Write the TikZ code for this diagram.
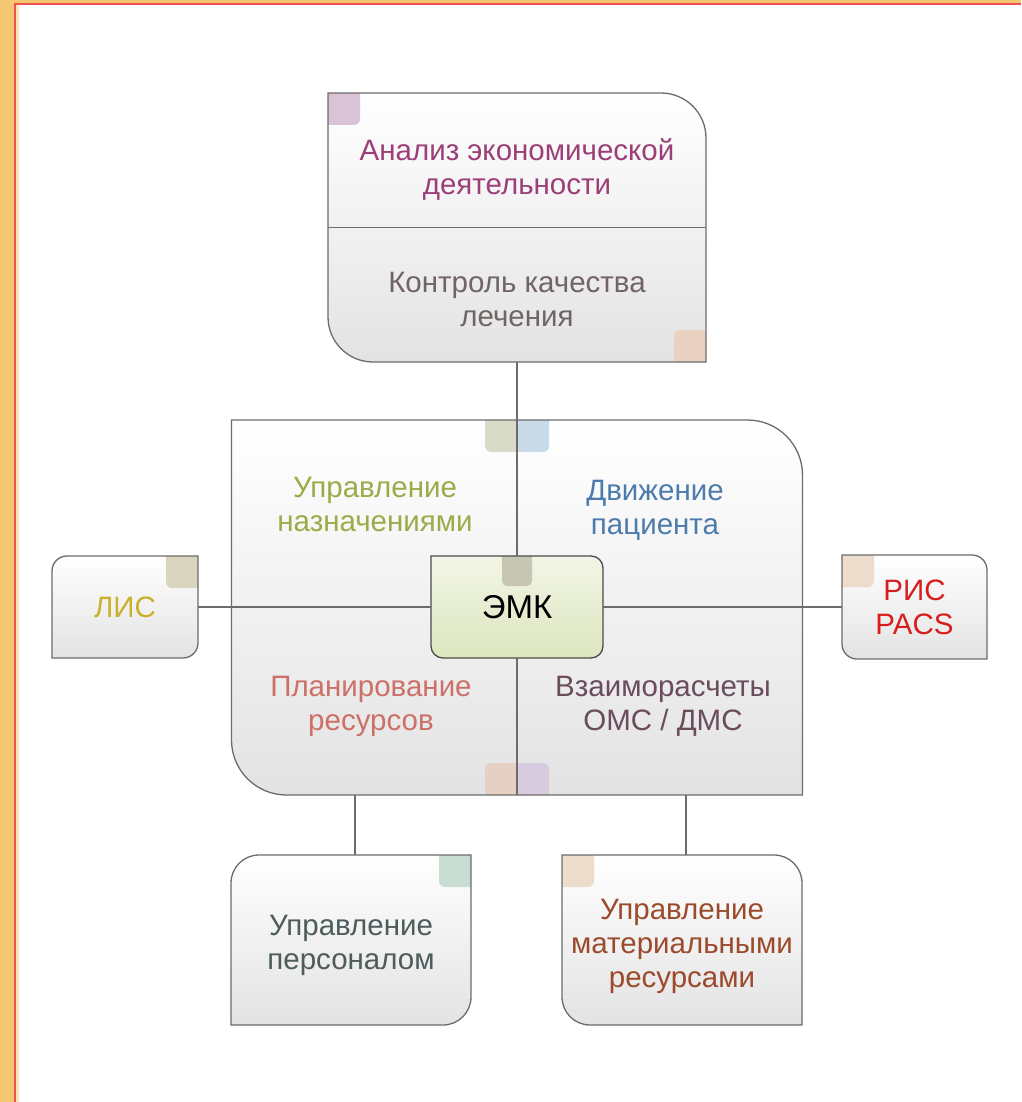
\documentclass[tikz,border=0pt]{standalone}
\usepackage{fontspec}
\setmainfont{Liberation Sans}
\usetikzlibrary{backgrounds}

\definecolor{slideOrange}{HTML}{F5C772}
\definecolor{slideRed}{HTML}{F24F4F}
\definecolor{lineGray}{HTML}{6C6C6C}
\definecolor{panelGray}{HTML}{E3E3E3}
\definecolor{emkLight}{HTML}{F2F5E6}
\definecolor{emkDark}{HTML}{DCE6BE}
% tab colours
\definecolor{tabAnaliz}{HTML}{D9C3D6}
\definecolor{tabKach}{HTML}{E9D2C2}
\definecolor{tabZoneL}{HTML}{D8DBC7}
\definecolor{tabZoneR}{HTML}{C9DBE8}
\definecolor{tabZoneBL}{HTML}{E6D0C4}
\definecolor{tabZoneBR}{HTML}{D7CBE0}
\definecolor{tabEmk}{HTML}{C6C6B2}
\definecolor{tabLis}{HTML}{D9D5BF}
\definecolor{tabRis}{HTML}{ECDCCC}
\definecolor{tabKadry}{HTML}{C9DDD3}
\definecolor{tabSnab}{HTML}{ECDCCA}
% text colours
\definecolor{txtAnaliz}{HTML}{9C3F78}
\definecolor{txtKach}{HTML}{706464}
\definecolor{txtNazn}{HTML}{9BAB4A}
\definecolor{txtDvig}{HTML}{4D7BAB}
\definecolor{txtPlan}{HTML}{CC7068}
\definecolor{txtVzaim}{HTML}{6A4C5C}
\definecolor{txtLis}{HTML}{C9B12E}
\definecolor{txtRis}{HTML}{D71E1E}
\definecolor{txtKadry}{HTML}{4E5C5C}
\definecolor{txtSnab}{HTML}{9C4A2C}

\newcommand\lblfont{\fontsize{29.5pt}{34pt}\selectfont}
\newcommand\emkfont{\fontsize{33pt}{36pt}\selectfont}

% outline with rounded top right and bottom left corners
\newcommand\leafpath[2]{(#1.north west) -- ([xshift=-#2]#1.north east) arc[start angle=90,end angle=0,radius=#2]
  -- (#1.south east) -- ([xshift=#2]#1.south west) arc[start angle=270,end angle=180,radius=#2] -- cycle}
% outline with rounded top left and bottom right corners
\newcommand\twinpath[2]{([yshift=-#2]#1.north west) arc[start angle=180,end angle=90,radius=#2] -- (#1.north east)
  -- ([yshift=#2]#1.south east) arc[start angle=0,end angle=-90,radius=#2] -- (#1.south west) -- cycle}

% little coloured tabs in the corners
\newcommand\tabNW[1]{\fill[#1,rounded corners=6pt] ([shift={(-10pt,10pt)}]path picture bounding box.north west) rectangle ++(42pt,-42pt);}
\newcommand\tabNE[1]{\fill[#1,rounded corners=6pt] ([shift={(10pt,10pt)}]path picture bounding box.north east) rectangle ++(-42pt,-42pt);}
\newcommand\tabSE[1]{\fill[#1,rounded corners=6pt] ([shift={(10pt,-10pt)}]path picture bounding box.south east) rectangle ++(-42pt,42pt);}
\newcommand\tabN[2]{\fill[#1,rounded corners=6pt] ([shift={(-32pt,10pt)}]path picture bounding box.north) rectangle ++(42pt,-42pt);
  \fill[#2,rounded corners=6pt] ([shift={(0pt,10pt)}]path picture bounding box.north) rectangle ++(32pt,-42pt);}
\newcommand\tabS[2]{\fill[#1,rounded corners=6pt] ([shift={(-32pt,-10pt)}]path picture bounding box.south) rectangle ++(42pt,42pt);
  \fill[#2,rounded corners=6pt] ([shift={(0pt,-10pt)}]path picture bounding box.south) rectangle ++(32pt,42pt);}

\begin{document}
\begin{tikzpicture}[x=1pt,y=1pt,
  box/.style={inner sep=0pt,outer sep=0pt,align=center,font=\lblfont},
  panel/.style={draw=lineGray,line width=1.3pt,top color=white,bottom color=panelGray},
  link/.style={draw=lineGray,line width=1.3pt},
  lbl/.style={align=center,font=\lblfont}]

\useasboundingbox (0,0) rectangle (1021,-1102);

% slide frame
\fill[slideOrange] (0,0) rectangle (14,-1102);
\fill[slideOrange] (0,0) rectangle (1021,-3);
\fill[slideOrange!50] (16,-5) rectangle (19,-1102);
\draw[slideRed,line width=2pt] (15,-1102) -- (15,-4) -- (1021,-4);

% boxes
\node[box,minimum width=378pt,minimum height=269pt] (analiz) at (517,-227.5) {};
\node[box,minimum width=571pt,minimum height=375pt] (zone) at (517,-607.5) {};
\node[box,minimum width=172pt,minimum height=102pt,font=\emkfont] (emk) at (517,-607) {ЭМК};
\node[box,minimum width=146pt,minimum height=102pt,text=txtLis] (lis) at (125,-607) {ЛИС};
\node[box,minimum width=145pt,minimum height=104pt,text=txtRis] (ris) at (914.5,-607) {РИС\\PACS};
\node[box,minimum width=240pt,minimum height=170pt] (kadry) at (351,-940) {};
\node[box,minimum width=240pt,minimum height=170pt] (snab) at (682,-940) {};

% labels
\node[lbl,text=txtAnaliz] (ekon) at (517,-169) {Анализ экономической\\деятельности};
\node[lbl,text=txtKach] (kachestvo) at (517,-299) {Контроль качества\\лечения};
\node[lbl,text=txtNazn] (nazn) at (375,-504) {Управление\\назначениями};
\node[lbl,text=txtDvig] (dvig) at (655,-510) {Движение\\пациента};
\node[lbl,text=txtPlan] (plan) at (371,-706) {Планирование\\ресурсов};
\node[lbl,text=txtVzaim] (vzaim) at (663,-706) {Взаиморасчеты\\ОМС / ДМС};
\node[lbl,text=txtKadry] (kadryTxt) at ([yshift=-5pt]kadry.center) {Управление\\персоналом};
\node[lbl,text=txtSnab] (snabTxt) at ([yshift=-6pt]snab.center) {Управление\\материальными\\ресурсами};

\begin{scope}[on background layer]
\path[panel,path picture={\tabN{tabZoneL}{tabZoneR}\tabS{tabZoneBL}{tabZoneBR}}] \leafpath{zone}{55pt};
\path[panel,path picture={\tabNW{tabAnaliz}\tabSE{tabKach}}] \leafpath{analiz}{45pt};
\path[panel,path picture={\tabNE{tabLis}}] \twinpath{lis}{15pt};
\path[panel,path picture={\tabNW{tabRis}}] \leafpath{ris}{15pt};
\path[panel,path picture={\tabNE{tabKadry}}] \twinpath{kadry}{28pt};
\path[panel,path picture={\tabNW{tabSnab}}] \leafpath{snab}{28pt};
\path[panel,draw=black!70,top color=emkLight,bottom color=emkDark,
  path picture={\fill[tabEmk,rounded corners=5pt] ([shift={(-15pt,10pt)}]path picture bounding box.north) rectangle ++(30pt,-40pt);}]
  (emk.north west) -- ([xshift=-12pt]emk.north east) arc[start angle=90,end angle=0,radius=12pt]
  -- ([yshift=12pt]emk.south east) arc[start angle=0,end angle=-90,radius=12pt]
  -- ([xshift=12pt]emk.south west) arc[start angle=270,end angle=180,radius=12pt] -- cycle;
\end{scope}

% connectors
\draw[link] (analiz.west) -- (analiz.east);
\draw[link] (analiz.south) -- (emk.north);
\draw[link] (emk.south) -- (zone.south);
\draw[link] (lis.east) -- (emk.west);
\draw[link] (emk.east) -- (ris.west);
\draw[link] ([xshift=4pt]kadry.north) -- ([xshift=4pt]kadry.north |- zone.south);
\draw[link] ([xshift=4pt]snab.north) -- ([xshift=4pt]snab.north |- zone.south);
\end{tikzpicture}
\end{document}
